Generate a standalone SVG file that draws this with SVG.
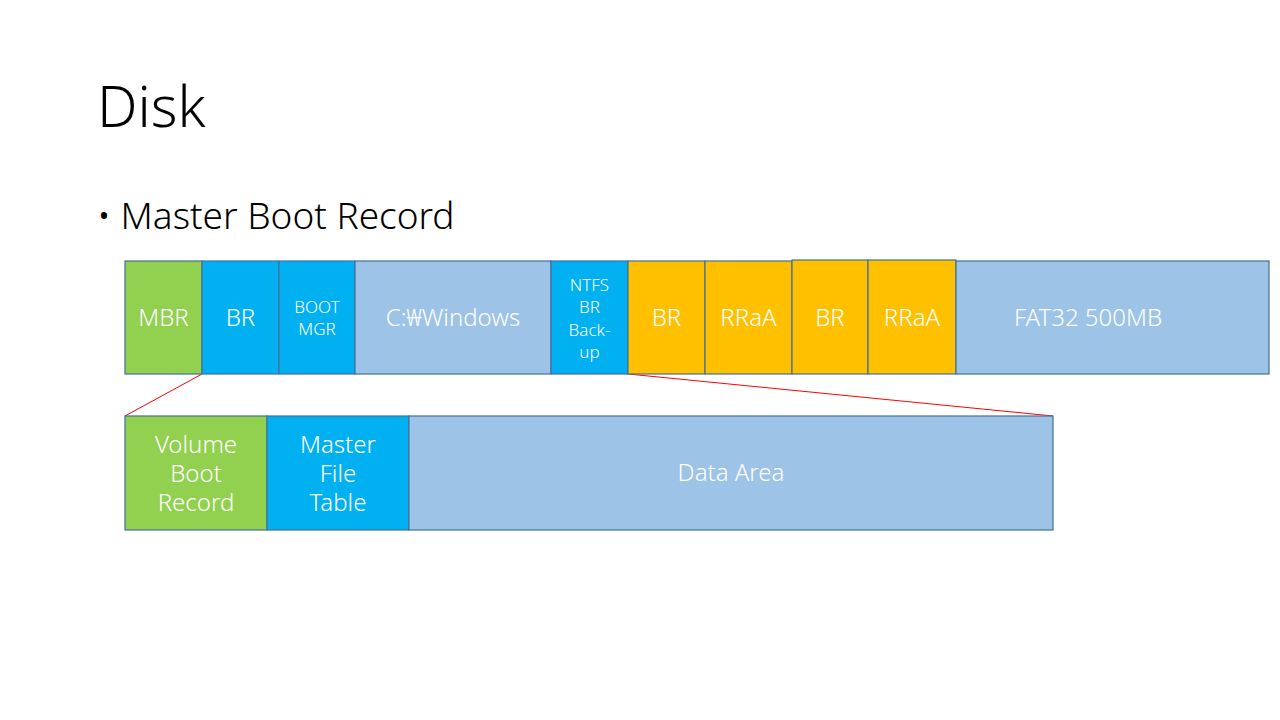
<svg xmlns="http://www.w3.org/2000/svg" width="1280" height="720" viewBox="0 0 1280 720">
<style>
text{font-family:"Noto Sans","Open Sans","Noto Sans CJK KR",sans-serif;}
.b{stroke:#41719C;stroke-width:1.2;}
.g{fill:#92D050;}
.c{fill:#00B0F0;}
.l{fill:#9DC3E6;}
.y{fill:#FFC000;}
.t{fill:#FFFFFF;font-size:24px;text-anchor:middle;font-weight:300;}
.s{fill:#FFFFFF;font-size:17px;text-anchor:middle;font-weight:300;}
.r{stroke:#FF0000;stroke-width:1;fill:none;}
</style>
<rect width="1280" height="720" fill="#FFFFFF"/>
<text x="97" y="127" font-size="57" font-weight="300" fill="#000000">Disk</text>
<text x="97" y="229" font-size="37" font-weight="300" fill="#000000">• Master Boot Record</text>
<g id="connectors">
<line class="r" x1="202" y1="374" x2="125" y2="416"/>
<line class="r" x1="628" y1="374" x2="1053" y2="416"/>
</g>
<g id="mbr"><rect class="b g" x="125" y="261" width="77" height="113"/><text class="t" x="163.5" y="326">MBR</text></g>
<g id="br1"><rect class="b c" x="202" y="261" width="77" height="113"/><text class="t" x="240.5" y="326">BR</text></g>
<g id="bootmgr"><rect class="b c" x="279" y="261" width="76" height="113"/><text class="s" x="317" y="313">BOOT</text><text class="s" x="317" y="335">MGR</text></g>
<g id="windows"><rect class="b l" x="355" y="261" width="196" height="113"/><text class="t" x="453" y="326">C:₩Windows</text></g>
<g id="ntfs"><rect class="b c" x="551" y="261" width="77" height="113"/><text class="s" x="589.5" y="291">NTFS</text><text class="s" x="589.5" y="313">BR</text><text class="s" x="589.5" y="336">Back-</text><text class="s" x="589.5" y="358">up</text></g>
<g id="br2"><rect class="b y" x="628" y="261" width="77" height="113"/><text class="t" x="666.5" y="326">BR</text></g>
<g id="rraa1"><rect class="b y" x="705" y="261" width="87" height="113"/><text class="t" x="748.5" y="326">RRaA</text></g>
<g id="br3"><rect class="b y" x="792" y="260" width="76" height="114"/><text class="t" x="830" y="326">BR</text></g>
<g id="rraa2"><rect class="b y" x="868" y="260" width="88" height="114"/><text class="t" x="912" y="326">RRaA</text></g>
<g id="fat32"><rect class="b l" x="956" y="261" width="313" height="113"/><text class="t" x="1088" y="326">FAT32 500MB</text></g>
<g id="vbr"><rect class="b g" x="125" y="416" width="142" height="114"/><text class="t" x="196" y="453">Volume</text><text class="t" x="196" y="482">Boot</text><text class="t" x="196" y="511">Record</text></g>
<g id="mft"><rect class="b c" x="267" y="416" width="142" height="114"/><text class="t" x="338" y="453">Master</text><text class="t" x="338" y="482">File</text><text class="t" x="338" y="511">Table</text></g>
<g id="data"><rect class="b l" x="409" y="416" width="644" height="114"/><text class="t" x="731" y="481">Data Area</text></g>
</svg>
